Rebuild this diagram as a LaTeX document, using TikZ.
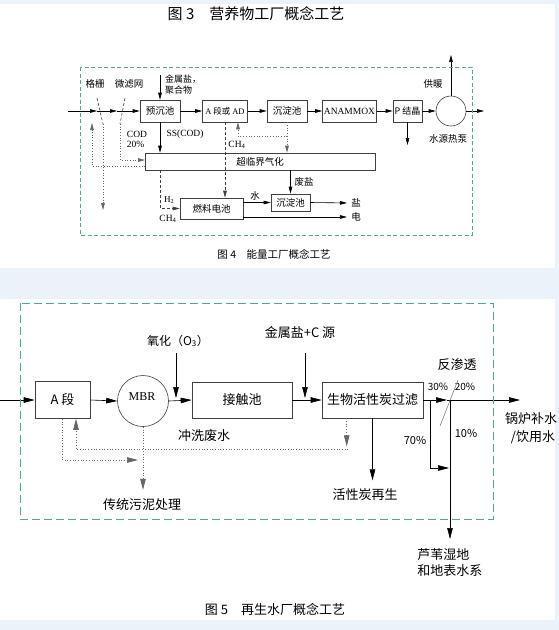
\documentclass[tikz,border=0pt]{standalone}
\usepackage{fontspec}
\setmainfont{Liberation Serif}
\newfontfamily\cjk{Noto Sans CJK SC}
\usetikzlibrary{arrows.meta,calc}
\definecolor{bgblue}{RGB}{236,242,250}
\definecolor{kuang}{RGB}{70,172,150}
\newcommand{\fsz}[1]{\fontsize{#1}{#1}\selectfont}

\begin{document}
\begin{tikzpicture}[x=1pt, y=-1pt, line width=0.6pt,
    >={Triangle[length=7pt,width=3.6pt]},
    box4/.style={draw=black!75, inner sep=0pt, font=\cjk\fsz{9.5}},
    box5/.style={draw=black!75, inner sep=0pt, font=\cjk\fsz{13}},
    lab4/.style={inner sep=0pt, font=\cjk\fsz{9.5}},
    lab5/.style={inner sep=0pt, font=\cjk\fsz{13}},
    dotline/.style={black!60, dotted, line width=0.7pt},
    dash4/.style={black!75, dash pattern=on 3pt off 2pt},
    kuang4/.style={kuang, line width=0.9pt, dash pattern=on 4pt off 2.5pt},
    kuang5/.style={kuang, line width=1pt, dash pattern=on 8pt off 4pt},
    bigarrow/.style={>={Triangle[length=11pt,width=5.5pt]}}]
    % 底色
    \fill[bgblue] (0,0) rectangle (559,630);
    \fill[white] (0,4) rectangle (555,268);
    \fill[white] (0,299) rectangle (555,620);
    \useasboundingbox (0,0) rectangle (559,630);

    % 图3 标题
    \node[font=\cjk\fsz{15}] (t3) at (256,14) {图 3\quad 营养物工厂概念工艺};

    % 图4 主流程
    \node[box4, minimum width=40, minimum height=22] (yuchen) at (160,111) {预沉池};
    \node[box4, minimum width=45, minimum height=22, font=\cjk\fsz{8.5}] (aduan) at (225,111) {{\rmfamily A} 段或 {\rmfamily AD}};
    \node[box4, minimum width=40, minimum height=22] (chendian) at (287,111) {沉淀池};
    \node[box4, minimum width=54, minimum height=22, font=\fsz{9.5}] (anammox) at (349.5,111) {ANAMMOX};
    \node[box4, minimum width=29, minimum height=22, font=\cjk\fsz{9}] (pjie) at (407.5,111) {P 结晶};
    \node[draw=black!75, circle, minimum size=30, inner sep=0pt] (rebeng) at (451,111) {};
    \node[box4, minimum width=230, minimum height=17] (chaolin) at (260,161.5) {超临界气化};
    \node[box4, minimum width=63, minimum height=21] (ranliao) at (211.5,208.5) {燃料电池};
    \node[box4, minimum width=39, minimum height=17] (chendianB) at (290.5,202.5) {沉淀池};

    % 标注
    \node[lab4] (gezha) at (95,84) {格栅};
    \node[lab4] (weilv) at (129,84) {微滤网};
    \node[inner sep=0pt, font=\cjk\fontsize{9}{11}\selectfont, align=left] (jinshu) at (183,85) {金属盐，\\聚合物};
    \node[lab4] (gongnuan) at (433,84) {供暖};
    \node[lab4] (rbT) at (448,139) {水源热泵};
    \node[inner sep=0pt, font=\fsz{9.5}] (cod) at (137,134) {COD};
    \node[inner sep=0pt, font=\fsz{9.5}] (p20a) at (135.5,144) {20\%};
    \node[inner sep=0pt, font=\fsz{9.5}] (ss) at (185,134) {SS(COD)};
    \node[inner sep=0pt, font=\fsz{9.5}] (ch4a) at (237,145) {CH\textsubscript{4}};
    \node[inner sep=0pt, font=\fsz{9}] (h2) at (169,200) {H\textsubscript{2}};
    \node[inner sep=0pt, font=\fsz{9.5}] (ch4b) at (168,219) {CH\textsubscript{4}};
    \node[lab4] (shui) at (255,196) {水};
    \node[lab4] (feiyan) at (304,182) {废盐};
    \node[lab4] (yan) at (356,203) {盐};
    \node[lab4] (dian) at (356,217) {电};
    \node[font=\cjk\fsz{10.5}] (t4) at (274,254) {图 4\quad 能量工厂概念工艺};

    % 图4 连线
    \coordinate (in4) at (68,111);
    \coordinate (j1) at (97,111);
    \coordinate (j2) at (117,111);
    \coordinate (gzT) at (97,98);
    \coordinate (gzB) at (103,124);
    \coordinate (wlT) at (125,98);
    \coordinate (wlB) at (120,124);
    \coordinate (gzout) at (103,210);
    \coordinate (codin) at (145,160);
    \coordinate (rcA) at (145,166);
    \coordinate (rcB) at (92,123);
    \coordinate (lp) at (287,136);
    \coordinate (out4) at (484,111);
    \coordinate (gnout) at (451,55);
    \coordinate (pjout) at (407.5,145);
    \draw[->] (in4) -- (j1);
    \draw[->] (j1) -- (j2);
    \draw[->] (j2) -- (yuchen.west);
    \draw[dash4] (gzT) -- (gzB);
    \draw[dash4] (wlT) -- (wlB);
    \draw[->] (yuchen) -- (aduan);
    \draw[->] (aduan) -- (chendian);
    \draw[->] (chendian) -- (anammox);
    \draw[->] (anammox) -- (pjie);
    \draw[->] (pjie) -- (rebeng);
    \draw[->] (rebeng.east) -- (out4);
    \draw[->] (rebeng.north) -- (gnout);
    \draw[->] (pjie.south) -- (pjout);
    \draw[->] (yuchen.north |- jinshu.north) -- (yuchen.north);
    \draw[dotline,->] (gzB) -- (gzout);
    \draw[dotline,->] (wlB) |- (codin);
    \draw[dotline,->] (rcA) -| (rcB);
    \draw[->] (yuchen.south) -- (yuchen.south |- chaolin.north);
    \draw[dash4,->] (aduan.south) -- (aduan.south |- ranliao.north);
    \draw[dotline,->] (chendian.south) -- (chendian.south |- chaolin.north);
    \draw[dotline,->] (lp) -| ($(aduan.south)+(13,0)$);
    \draw[dash4,->] (yuchen.south |- chaolin.south) |- (ranliao.west);
    \draw[->] (chendianB.north |- chaolin.south) -- (chendianB.north);
    \draw[->] (ranliao.east |- chendianB.west) -- (chendianB.west);
    \draw[->, shorten >=4pt] (chendianB.east) -- (yan.west);
    \draw[->, shorten >=4pt] (ranliao.east |- dian.west) -- (dian.west);
    \draw[kuang4] (80,67) rectangle (472,235);

    % 图5
    \begin{scope}[bigarrow]
    \node[box5, minimum width=55, minimum height=37] (aduanB) at (62.5,400) {A 段};
    \node[draw=black!75, circle, minimum size=51, inner sep=0pt] (mbr) at (143,401) {};
    \node[inner sep=0pt, font=\fsz{12}] (mbrT) at (142,397) {MBR};
    \node[box5, minimum width=100, minimum height=36] (jiechu) at (242,400) {接触池};
    \node[box5, minimum width=101, minimum height=36] (shenghuo) at (372.5,400) {生物活性炭过滤};

    % 标注
    \node[inner sep=0pt, font=\cjk\fsz{12}] (o3) at (178,341) {氧化（O\textsubscript{3}）};
    \node[lab5] (jsC) at (300,333) {金属盐+C 源};
    \node[lab5] (fanshen) at (457,365) {反渗透};
    \node[inner sep=0pt, font=\cjk\fsz{10}] (p30) at (438,387) {30\%};
    \node[inner sep=0pt, font=\cjk\fsz{10}] (p20b) at (465,387) {20\%};
    \node[inner sep=0pt, font=\cjk\fsz{11}] (p70) at (415,440) {70\%};
    \node[inner sep=0pt, font=\cjk\fsz{11}] (p10) at (466,433) {10\%};
    \node[lab5] (guolu) at (531,419) {锅炉补水};
    \node[lab5] (yinyong) at (533,437) {/饮用水};
    \node[inner sep=0pt, font=\cjk\fontsize{13}{16}\selectfont, align=left, anchor=west] (luwei) at (417,563) {芦苇湿地\\和地表水系};
    \node[lab5] (huoxing) at (365,495) {活性炭再生};
    \node[lab5] (chuantong) at (142,505) {传统污泥处理};
    \node[lab5] (chongxi) at (204,436) {冲洗废水};
    \node[font=\cjk\fsz{13}] (t5) at (275,609) {图 5\quad 再生水厂概念工艺};

    % 连线
    \coordinate (in5) at (0,400);
    \coordinate (o3a) at (176,353);
    \coordinate (o3b) at (176,398);
    \coordinate (jsa) at (305,353);
    \coordinate (jsb) at (305,398);
    \coordinate (ro) at (447,400);
    \coordinate (out5) at (520,400);
    \coordinate (rdT) at (458,380);
    \coordinate (rdB) at (440,426);
    \coordinate (b70) at (430,400);
    \coordinate (e70) at (449,468);
    \coordinate (b10) at (450,400);
    \coordinate (e10) at (450,539);
    \coordinate (cxA) at (348,449);
    \coordinate (adE) at (138,460);
    \draw[->] (in5) -- (aduanB);
    \draw[->] (aduanB.east) -- (mbr.west);
    \draw[->] (mbr.east) -- (jiechu.west);
    \draw[->] (jiechu) -- (shenghuo);
    \draw[->] (o3a) -- (o3b);
    \draw[->] (jsa) -- (jsb);
    \draw[->] (shenghuo.east) -- (ro);
    \draw[->] (ro) -- (out5);
    \draw[black!55, line width=0.5pt] (rdT) -- (rdB);
    \draw[->] (b70) |- (e70);
    \draw[->] (b10) -- (e10);
    \draw[->] (shenghuo.south) -- ++(0,62);
    \draw[dotline,->] ($(shenghuo.south west)+(25,0)$) -- ++(0,28);
    \draw[dotline,->] (cxA) -| ($(aduanB.south)+(13.5,0)$);
    \draw[dotline,->] (aduanB.south) |- (adE);
    \draw[dotline,->] (mbr.south) -- ++(0,63);
    \draw[kuang5] (20,303) rectangle (493,519);
    \end{scope}
\end{tikzpicture}
\end{document}
